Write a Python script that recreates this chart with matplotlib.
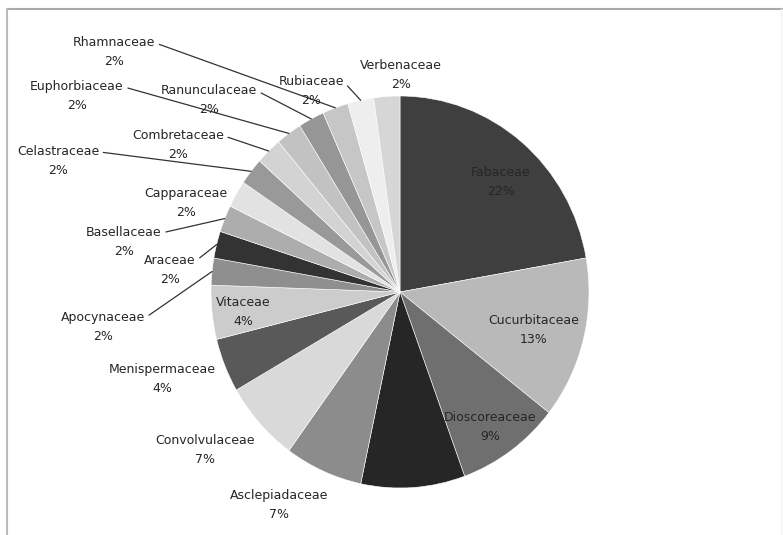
import numpy as np
import matplotlib
matplotlib.use("Agg")
import matplotlib.pyplot as plt
from matplotlib.lines import Line2D

# Data: number of species per family (percentages on labels are rounded shares)
families = ["Fabaceae", "Cucurbitaceae", "Dioscoreaceae", "Liliaceae", "Asclepiadaceae",
            "Convolvulaceae", "Menispermaceae", "Vitaceae", "Apocynaceae", "Araceae",
            "Basellaceae", "Capparaceae", "Celastraceae", "Combretaceae", "Euphorbiaceae",
            "Ranunculaceae", "Rhamnaceae", "Rubiaceae", "Verbenaceae"]
counts = [10, 6, 4, 4, 3, 3, 2, 2, 1, 1, 1, 1, 1, 1, 1, 1, 1, 1, 1]

greys = ["#3f3f3f", "#b9b9b9", "#6f6f6f", "#262626", "#8c8c8c",
         "#d9d9d9", "#595959", "#cccccc", "#8f8f8f", "#333333",
         "#adadad", "#e2e2e2", "#999999", "#d3d3d3", "#c2c2c2",
         "#969696", "#c6c6c6", "#eeeeee", "#d6d6d6"]

# label centres in image pixels, and whether a leader line is drawn
label_pos = [(501, 182), (534, 330), (490, 427), (410, 464), (279, 505),
             (205, 450), (162, 379), (243, 312), (103, 327), (170, 270),
             (124, 242), (186, 203), (58, 161), (178, 145), (77, 96),
             (209, 100), (114, 52), (311, 91), (401, 75)]
leader = [False] * 8 + [True, True, True, False, True, True, True, True, True, True, False]

W, H = 783, 535
cx, cy, rx, ry = 400, 292, 189, 196


def px(x, y):
    return ((x - cx) / rx, (cy - y) / ry)


fig = plt.figure(figsize=(W / 100, H / 100), dpi=100)
ax = fig.add_axes([0, 0, 1, 1])
wedges, _ = ax.pie(counts, colors=greys, startangle=90, counterclock=False, radius=1,
                   wedgeprops=dict(edgecolor="white", linewidth=0.4))
ax.set_aspect("auto")
ax.set_xlim(-cx / rx, (W - cx) / rx)
ax.set_ylim(-(H - cy) / ry, cy / ry)
ax.axis("off")

total = sum(counts)
for w, name, c, pos, has_line in zip(wedges, families, counts, label_pos, leader):
    txt = "{}\n{}%".format(name, int(round(100 * c / total)))
    if has_line:
        ang = np.radians((w.theta1 + w.theta2) / 2)
        ax.annotate(txt, xy=(np.cos(ang), np.sin(ang)), xytext=px(*pos),
                    ha="center", va="center", fontsize=9, color="#262626", linespacing=1.65,
                    arrowprops=dict(arrowstyle="-", relpos=(1, 0.78), shrinkA=1, shrinkB=0,
                                    lw=0.9, color="#333333"))
    else:
        ax.text(*px(*pos), txt, ha="center", va="center", fontsize=9,
                color="#262626", linespacing=1.65)

# light grey frame of the original chart area
fig.add_artist(Line2D([7 / W, 1], [1 - 9 / H, 1 - 9 / H], color="#aaaaaa", lw=1.5))
fig.add_artist(Line2D([7 / W, 7 / W], [0, 1 - 9 / H], color="#bbbbbb", lw=1.5))
fig.add_artist(Line2D([781 / W, 781 / W], [0, 1 - 9 / H], color="#f2f2f2", lw=1))

fig.savefig("out.png", dpi=100, facecolor="white")
